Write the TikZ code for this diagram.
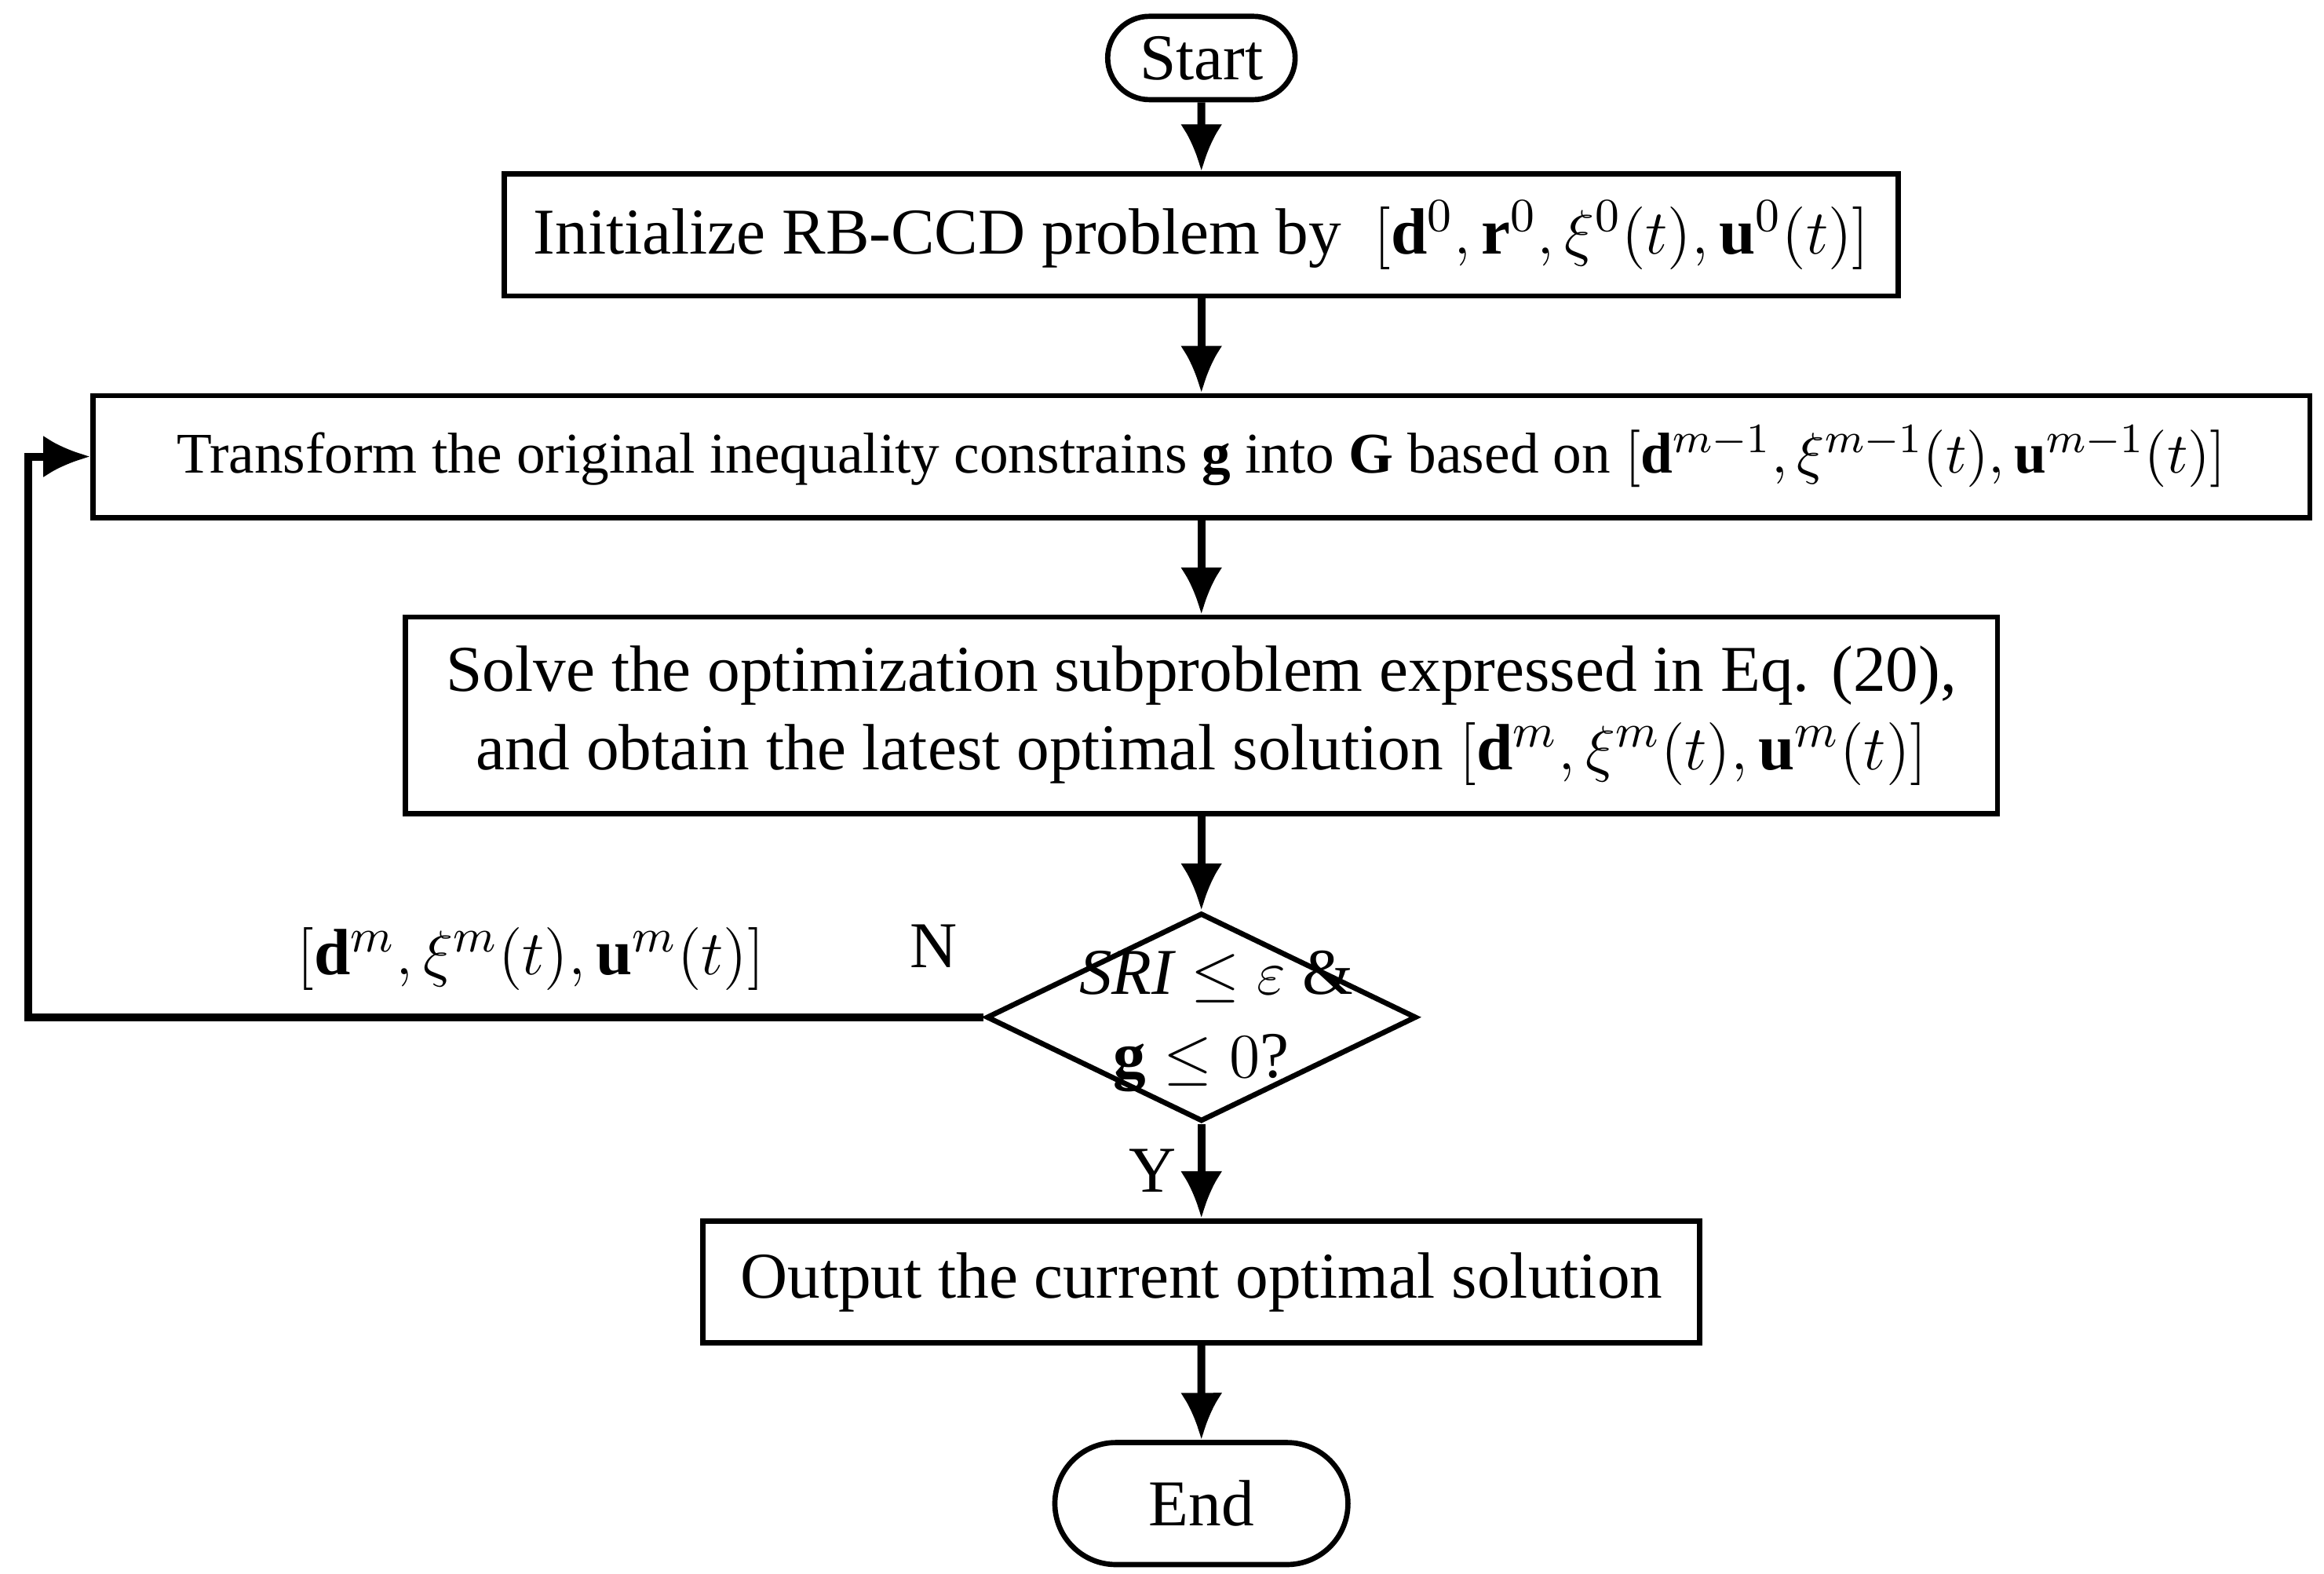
\documentclass[tikz,border=0pt]{standalone}
\usepackage{fontspec}
\setmainfont{Liberation Serif}
\usetikzlibrary{shapes.geometric,shapes.misc,arrows.meta}
\begin{document}
\begin{tikzpicture}[x=0.01cm,y=-0.01cm,
  font=\fontsize{12.5}{15}\selectfont,
  box/.style={draw,line width=1pt,inner sep=0pt,align=center},
  term/.style={draw,line width=1pt,rounded rectangle,inner sep=0pt},
  arr/.style={line width=1.5pt,-{Latex[length=9pt,width=8pt]}}]
\useasboundingbox (0,0) rectangle (1563,1058);
\node[term,minimum width=1.26cm,minimum height=0.56cm] (start) at (808,39) {Start};
\node[box,minimum width=9.37cm,minimum height=0.82cm] (init) at (808,158) {Initialize RB-CCD problem by \ $[\mathbf{d}^0,\mathbf{r}^0,\xi^0(t),\mathbf{u}^0(t)]$};
\node[box,minimum width=14.9cm,minimum height=0.82cm,font=\fontsize{11}{13}\selectfont] (trans) at (808,307) {Transform the original inequality constrains $\mathbf{g}$ into $\mathbf{G}$ based on $[\mathbf{d}^{m-1},\xi^{m-1}(t),\mathbf{u}^{m-1}(t)]$};
\node[box,minimum width=10.7cm,minimum height=1.32cm] (solve) at (808,481) {Solve the optimization subproblem expressed in Eq. (20),\\ and obtain the latest optimal solution $[\mathbf{d}^m,\xi^m(t),\mathbf{u}^m(t)]$};
\node[draw,line width=1pt,diamond,aspect=2.064,minimum width=2.89cm,minimum height=1.4cm,inner sep=0pt] (dec) at (808,684) {};
\node (t1) at (818,657) {$\mathit{SRI}\le\varepsilon$ \&};
\node (t2) at (808,715) {$\mathbf{g}\le 0$?};
\node[box,minimum width=6.7cm,minimum height=0.82cm] (out) at (808,862) {Output the current optimal solution};
\node[term,minimum width=1.97cm,minimum height=0.82cm] (end) at (808,1011) {End};
\coordinate (c1) at (19,684);
\coordinate (c2) at (19,307);
\draw[arr] (start) -- (init);
\draw[arr] (init) -- (trans);
\draw[arr] (trans) -- (solve);
\draw[arr] (solve) -- (dec.north);
\draw[arr] (dec.south) -- (out);
\draw[arr] (out) -- (end);
\draw[arr] (dec.west) -- (c1) -- (c2) -- (trans.west);
\node (n) at (628,636) {N};
\node (y) at (775,787) {Y};
\node (lab) at (357,645) {$[\mathbf{d}^m,\xi^m(t),\mathbf{u}^m(t)]$};
\end{tikzpicture}
\end{document}
